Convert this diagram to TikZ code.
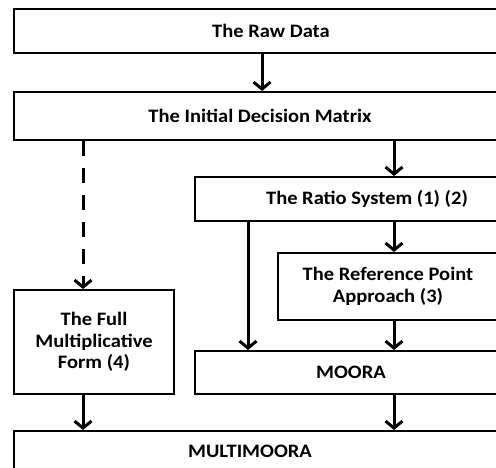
\documentclass[tikz,border=0pt]{standalone}
\usepackage{fontspec}
\setmainfont{Carlito}[FakeStretch=1.08]
\usetikzlibrary{arrows.meta}

\begin{document}
\begin{tikzpicture}[x=1pt, y=-1pt,
  box/.style={draw, line width=2pt, fill=white, align=center, inner sep=0pt,
    font=\bfseries\fontsize{19}{21.5}\selectfont},
  arr/.style={line width=3pt, -{Straight Barb[length=7pt,width=17pt]}},
  dasharr/.style={arr, dash pattern=on 15pt off 12pt}]
\useasboundingbox (0,0) rectangle (496,468);
\clip (0,0) rectangle (496,468);

% Cac cot cua mui ten
\coordinate (colL) at (83,0);
\coordinate (colM) at (248,0);
\coordinate (colC) at (262,0);
\coordinate (colR) at (394,0);

% Ve cac hop
\node[box, minimum width=514pt, minimum height=44pt] (raw) at (271,31) {The Raw Data};
\node[box, minimum width=492pt, minimum height=48pt] (idm) at (260,116) {The Initial Decision Matrix};
\node[box, minimum width=344pt, minimum height=44pt] (ratio) at (367,199) {The Ratio System (1) (2)};
\node[box, minimum width=220pt, minimum height=67pt] (rpa) at (388,286.5) {The Reference Point\\Approach (3)};
\node[box, minimum width=160pt, minimum height=104pt] (fmf) at (94,342) {The Full\\Multiplicative\\Form (4)};
\node[box, minimum width=312pt, minimum height=43pt] (moora) at (351,372.5) {MOORA};
\node[box, minimum width=506pt, minimum height=40pt] (multi) at (267,451) {MULTIMOORA\hspace{34pt}};

% Ve cac mui ten
\draw[arr] (raw.south -| colC) -- (idm.north -| colC);
\draw[arr] (idm.south -| colR) -- (ratio.north -| colR);
\draw[dasharr] (idm.south -| colL) -- (fmf.north -| colL);
\draw[arr] (ratio.south -| colM) -- (moora.north -| colM);
\draw[arr] (ratio.south -| colR) -- (rpa.north -| colR);
\draw[arr] (rpa.south -| colR) -- (moora.north -| colR);
\draw[arr] (fmf.south -| colL) -- (multi.north -| colL);
\draw[arr] (moora.south -| colR) -- (multi.north -| colR);
\end{tikzpicture}
\end{document}
